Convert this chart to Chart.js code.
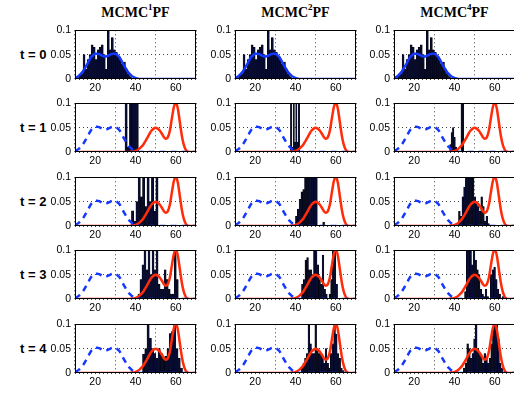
<!DOCTYPE html>
<html><head><meta charset="utf-8">
<script src="https://cdn.jsdelivr.net/npm/chart.js@4.4.0/dist/chart.umd.min.js"></script>
<style>
html,body{margin:0;padding:0;background:#fff;}
body{width:514px;height:394px;overflow:hidden;position:relative;}
canvas{position:absolute;}
.ttl{position:absolute;top:5px;font:bold 14px 'Liberation Serif','Times New Roman',serif;transform:translateX(-50%);white-space:nowrap;color:#000;}
.ttl sup{font-size:9px;line-height:0;position:relative;top:-1px;}
.rl{position:absolute;left:20px;font:bold 13px 'Liberation Sans',Arial,sans-serif;color:#000;white-space:nowrap;transform:translateY(-50%);}
</style></head>
<body>
<script>
// ---------- data ----------
const columnTitles = ['MCMC', 'MCMC', 'MCMC'];
const columnSup = ['1', '2', '4'];
const rowLabels = ['t = 0', 't = 1', 't = 2', 't = 3', 't = 4'];
const xTicks = [20, 40, 60];
const yTicks = [0, 0.05, 0.1];

// density curves read at x = 10..70
const curveX = [10,11,12,13,14,15,16,17,18,19,20,21,22,23,24,25,26,27,28,29,30,31,32,33,34,35,36,37,38,39,40,
  41,42,43,44,45,46,47,48,49,50,51,52,53,54,55,56,57,58,59,60,61,62,63,64,65,66,67,68,69,70];
const priorY = [0.002,0.004,0.007,0.011,0.016,0.023,0.030,0.038,0.045,0.049,0.052,0.052,0.051,0.049,0.047,0.046,
  0.047,0.049,0.051,0.052,0.052,0.049,0.045,0.038,0.030,0.023,0.016,0.011,0.007,0.004,0.002,0.001,
  0,0,0,0,0,0,0,0,0,0,0,0,0,0,0,0,0,0,0,0,0,0,0,0,0,0,0,0,0];
const targetY = [0,0,0,0,0,0,0,0,0,0,0,0,0,0,0,0,0,0,0,0,0,0,0,0,0,0,0,0,
  0.001,0.001,0.002,0.004,0.007,0.011,0.016,0.023,0.030,0.038,0.044,0.048,0.050,0.048,0.044,0.038,0.031,0.027,
  0.030,0.043,0.068,0.092,0.102,0.089,0.061,0.033,0.014,0.004,0.001,0,0,0,0];

// histograms: first bin edge, bin width, bin heights (0.12 = bar runs off the top)
const binStart = [[11,11,11],[34.8,37.5,37.6],[38,40,42],[41.2,43,45],[43.5,42.8,44.4]];
const binWidth = [[1,1,1],[1.1,0.65,0.7],[1.1,0.9,0.85],[1,0.85,0.85],[1.1,0.85,0.85]];
const h_t0 = [0.003,0.008,0.01,0.05,0.02,0.04,0.05,0.07,0.065,0.04,0.06,0.065,0.07,0.05,0.02,0.12,0.06,0.085,0.06,0.055,0.045,0.04,0.03,0.035,0.02,0.01,0.005];
const h_t1c1 = [0.12,0.01,0.12,0.12,0.12,0.12];
const h_t1c2 = [0.12,0.01,0.12,0.02,0.12,0.02,0.12];
const h_t1c3 = [0.015,0.04,0.05,0.03,0.01,0.005,0.002,0,0.12,0.12];
const h_t2c1 = [0.031,0.01,0.05,0.12,0.06,0.12,0.04,0.12,0.05,0.12,0.03,0.12];
const h_t2c2 = [0.02,0.035,0.055,0.07,0.075,0.12,0.12,0.12,0.12,0.12,0.12,0.12,0,0,0,0.008];
const h_t2c3 = [0.03,0.02,0.06,0.08,0.12,0.12,0.12,0.12,0.12,0.06,0.05,0.04,0.03,0.06,0.04,0.01,0.02,0.005];
const h_t3c1 = [0.01,0.04,0.07,0.12,0.06,0.12,0.05,0.12,0.06,0.12,0.03,0.02,0.02,0.06,0.04,0.02,0.01,0.01,0.12,0.04];
const h_t3c2 = [0.03,0.04,0.08,0.085,0.06,0.06,0.05,0.12,0.12,0.07,0.04,0.03,0.09,0.02,0.01,0,0.01,0.04,0.12,0.12,0.03];
const h_t3c3 = [0.015,0.12,0.12,0.12,0.07,0.12,0.08,0.06,0.05,0.02,0.01,0.005,0.02,0.005,0,0.05,0.06,0.065,0.04,0.02,0.01,0,0.005];
const h_t4c1 = [0.039,0.05,0.12,0.071,0.05,0.04,0.03,0.05,0.04,0.03,0.035,0.05,0.081,0.085,0.12,0.05,0.03,0.01];
const h_t4c2 = [0.01,0.02,0.03,0.04,0.12,0.06,0.04,0.04,0.12,0.05,0.04,0.04,0.03,0.02,0.05,0.02,0.01,0.04,0.06,0.12,0.08,0.04,0.03,0.01,0.005];
const h_t4c3 = [0.01,0.02,0.06,0.05,0.03,0.04,0.07,0.1,0.05,0.04,0.035,0.02,0.04,0.03,0.02,0.03,0.06,0.09,0.12,0.12,0.07,0.02,0.01];
const histHeights = [
  [h_t0, h_t0, h_t0],
  [h_t1c1, h_t1c2, h_t1c3],
  [h_t2c1, h_t2c2, h_t2c3],
  [h_t3c1, h_t3c2, h_t3c3],
  [h_t4c1, h_t4c2, h_t4c3]
];

// ---------- layout ----------
const plotLeft = [75, 235, 394];
const plotTop = [28, 101, 175, 248, 322];
const PW = 121, PH = 51, PADL = 45, PADT = 8, PADR = 8, PADB = 20;
const BLUE = '#1538ff', RED = '#ff2c0a';
const TICKFONT = { family: "'Liberation Sans', Arial, sans-serif", size: 10.5 };

const framePlugin = {
  id: 'frame',
  afterDatasetsDraw(chart) {
    const a = chart.chartArea, c = chart.ctx;
    c.save(); c.strokeStyle = '#000'; c.lineWidth = 1; c.setLineDash([]);
    c.strokeRect(Math.round(a.left) + 0.5, Math.round(a.top) + 0.5, Math.round(a.right - a.left) - 1, Math.round(a.bottom - a.top) - 1);
    c.restore();
  }
};

function pts(xs, ys) { return xs.map((x, i) => ({ x: x, y: ys[i] })); }

for (let c = 0; c < 3; c++) {
  const t = document.createElement('div');
  t.className = 'ttl';
  t.style.left = (plotLeft[c] + PW / 2) + 'px';
  t.innerHTML = columnTitles[c] + '<sup>' + columnSup[c] + '</sup>PF';
  document.body.appendChild(t);
}
for (let r = 0; r < 5; r++) {
  const l = document.createElement('div');
  l.className = 'rl';
  l.style.top = (plotTop[r] + PH / 2) + 'px';
  l.textContent = rowLabels[r];
  document.body.appendChild(l);
}

for (let r = 0; r < 5; r++) {
  for (let c = 0; c < 3; c++) {
    const cv = document.createElement('canvas');
    const W = PADL + PW + PADR, H = PADT + PH + PADB;
    cv.width = W; cv.height = H;
    cv.style.left = (plotLeft[c] - PADL) + 'px';
    cv.style.top = (plotTop[r] - PADT) + 'px';
    cv.style.width = W + 'px'; cv.style.height = H + 'px';
    document.body.appendChild(cv);

    const hs = histHeights[r][c];
    const bins = hs.map((h, i) => ({ x: binStart[r][c] + (i + 0.5) * binWidth[r][c], y: h }));
    const datasets = [
      { type: 'bar', data: bins, backgroundColor: '#070b30', borderColor: '#000', borderWidth: 0.4,
        barPercentage: 1, categoryPercentage: 1, order: 3 }
    ];
    if (r > 0) {
      datasets.push({ type: 'line', data: pts(curveX, targetY), borderColor: RED, borderWidth: 2.5,
        pointRadius: 0, cubicInterpolationMode: 'monotone', order: 2 });
      datasets.push({ type: 'line', data: pts(curveX, priorY), borderColor: BLUE, borderWidth: 2.5,
        borderDash: [6, 5], pointRadius: 0, cubicInterpolationMode: 'monotone', order: 1 });
    } else {
      datasets.push({ type: 'line', data: pts(curveX, priorY), borderColor: BLUE, borderWidth: 2.5,
        pointRadius: 0, cubicInterpolationMode: 'monotone', order: 1 });
    }

    new Chart(cv, {
      type: 'bar',
      data: { datasets: datasets },
      plugins: [framePlugin],
      options: {
        responsive: false, animation: false, devicePixelRatio: 1,
        layout: { padding: { left: 0, top: PADT, right: PADR, bottom: 0 } },
        plugins: { legend: { display: false }, tooltip: { enabled: false }, title: { display: false } },
        scales: {
          x: {
            type: 'linear', min: 10, max: 70, offset: false,
            afterBuildTicks: s => { s.ticks = xTicks.map(v => ({ value: v })); },
            afterFit: s => { s.height = PADB; },
            ticks: { color: '#000', font: TICKFONT, padding: 3, maxRotation: 0 },
            grid: { color: '#444', lineWidth: 1, drawTicks: false },
            border: { display: false, dash: [1, 3] }
          },
          y: {
            type: 'linear', min: 0, max: 0.1,
            afterBuildTicks: s => { s.ticks = yTicks.map(v => ({ value: v })); },
            afterFit: s => { s.width = PADL; },
            ticks: { color: '#000', font: TICKFONT, padding: 4, callback: v => String(v) },
            grid: { color: '#444', lineWidth: 1, drawTicks: false },
            border: { display: false, dash: [1, 3] }
          }
        }
      }
    });
  }
}
</script>
</body></html>
